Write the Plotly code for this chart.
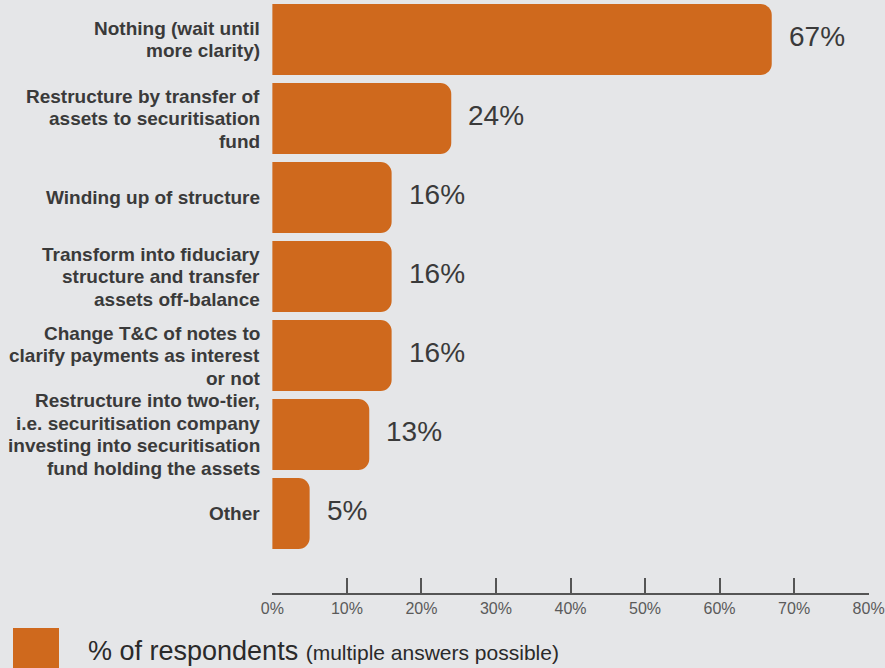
import plotly.graph_objects as go

# Survey answers, top to bottom
categories = [
    "Nothing (wait until<br>more clarity)",
    "Restructure by transfer of<br>assets to securitisation<br>fund",
    "Winding up of structure",
    "Transform into fiduciary<br>structure and transfer<br>assets off-balance",
    "Change T&C of notes to<br>clarify payments as interest<br>or not",
    "Restructure into two-tier,<br>i.e. securitisation company<br>investing into securitisation<br>fund holding the assets",
    "Other",
]
values = [67, 24, 16, 16, 16, 13, 5]
x_ticks = [0, 10, 20, 30, 40, 50, 60, 70, 80]
tick_labels = [f"{t}%" for t in x_ticks]

BAR = "#cf691d"
BG = "#e5e6e8"
TEXT = "#3a3a3a"
FONT = "Liberation Sans, Arial, sans-serif"

W, H = 885, 668
ML, MR, MT, MB = 272, 16, 0, 75
plot_w = W - ML - MR
plot_h = H - MT - MB
LEADING = 22.5

fig = go.Figure(
    go.Bar(
        x=values,
        y=categories,
        orientation="h",
        marker=dict(color=BAR, cornerradius=11, line=dict(width=0)),
        hoverinfo="skip",
    )
)

# category labels, one line at a time for tighter leading
for cat in categories:
    lines = cat.split("<br>")
    n = len(lines)
    for i, line in enumerate(lines):
        fig.add_annotation(
            xref="paper", x=0, y=cat, text=line, showarrow=False,
            xanchor="right", yanchor="middle", xshift=-10,
            yshift=((n - 1) / 2 - i) * LEADING,
            font=dict(family=FONT, size=19, color=TEXT, weight="bold"),
        )

# value labels to the right of each bar
for cat, v in zip(categories, values):
    fig.add_annotation(
        x=v, y=cat, text=f"{v}%", showarrow=False,
        xanchor="left", yanchor="middle", xshift=15, yshift=3,
        font=dict(family=FONT, size=28, color=TEXT),
    )

# legend swatch and caption below the axis
def px_x(p):
    return (p - ML) / plot_w

def px_y(p):
    return (H - MB - p) / plot_h

fig.add_shape(
    type="rect", xref="paper", yref="paper",
    x0=px_x(13), x1=px_x(59), y0=px_y(670), y1=px_y(628),
    fillcolor=BAR, line=dict(width=0),
)
fig.add_annotation(
    xref="paper", yref="paper", x=px_x(86), y=px_y(651),
    xanchor="left", yanchor="middle", showarrow=False,
    text="% of respondents <span style='font-size:21px'>(multiple answers possible)</span>",
    font=dict(family=FONT, size=27, color="#2a2a2a"),
)

extra = 40 / 79.0
fig.update_layout(
    width=W, height=H,
    margin=dict(l=ML, r=MR, t=MT, b=MB, pad=0),
    paper_bgcolor=BG, plot_bgcolor=BG,
    bargap=0.1,
    showlegend=False,
    xaxis=dict(
        range=[-0.05, 80.05], tickvals=x_ticks, ticktext=tick_labels,
        showgrid=False, zeroline=False,
        showline=True, linecolor="#555555", linewidth=1.5,
        ticks="inside", ticklen=15, tickwidth=1.5, tickcolor="#555555",
        tickfont=dict(family=FONT, size=16, color="#5a5a5a"),
        fixedrange=True,
    ),
    yaxis=dict(
        categoryorder="array", categoryarray=categories,
        range=[6.5 + extra, -0.5],
        showgrid=False, zeroline=False, showline=False, ticks="",
        showticklabels=False,
        fixedrange=True,
    ),
)

fig.write_html("out.html")
